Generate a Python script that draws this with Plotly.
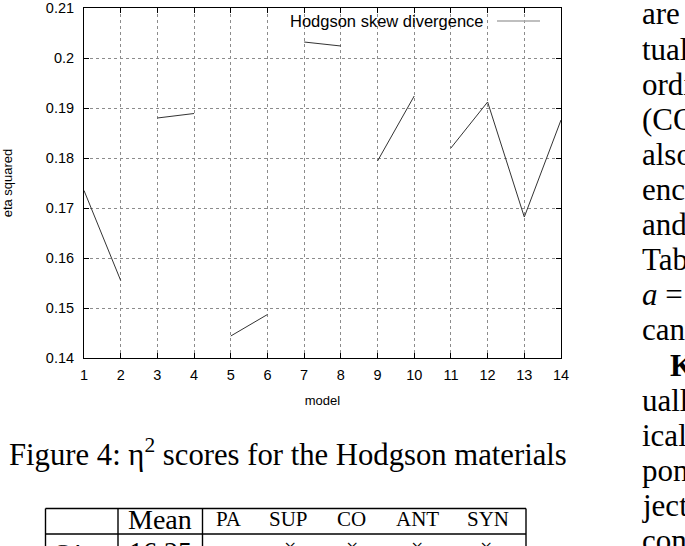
import plotly.graph_objects as go

# ---- data ----
models = [1, 2, None, 3, 4, None, 5, 6, None, 7, 8, None, 9, 10, None, 11, 12, 13, 14]
eta_sq = [0.1735, 0.1555, None, 0.1880, 0.1889, None, 0.1444, 0.1487, None,
          0.2032, 0.2024, None, 0.1794, 0.1924, None, 0.1820, 0.1912, 0.1682, 0.1876]
series_name = "Hodgson skew divergence"
x_ticks = list(range(1, 15))
y_ticks = [0.14, 0.15, 0.16, 0.17, 0.18, 0.19, 0.20, 0.21]
y_tick_labels = ["0.14", "0.15", "0.16", "0.17", "0.18", "0.19", "0.2", "0.21"]

caption = "Figure 4: η<sup>2</sup> scores for the Hodgson materials"
table_header = ["Mean", "PA", "SUP", "CO", "ANT", "SYN"]
table_row = ["GA", "16.25", "", "×", "×", "×", "×"]
side_text = ["are", "tually", "ordi", "(CO", "also", "ence", "and", "Table", "<i>a</i> =",
             "can", "<b>Ke</b>", "ually", "ical", "pone", "jects", "cons"]

# ---- layout geometry (pixels) ----
W, H = 685, 546
PL, PR, PT, PB = 84, 561, 8, 358


def fx(px):
    return (px - PL) / (PR - PL)


def fy(py):
    return (PB - py) / (PB - PT)


SANS = "Liberation Sans, Arial, sans-serif"
SERIF = "Liberation Serif, Times New Roman, serif"

fig = go.Figure()
fig.add_trace(go.Scatter(x=models, y=eta_sq, mode="lines", connectgaps=False,
                         line=dict(color="#333333", width=1), name=series_name,
                         showlegend=False))

axis_common = dict(showline=True, linecolor="black", linewidth=1, mirror="ticks",
                   ticks="inside", ticklen=5, tickcolor="black", tickwidth=1,
                   showgrid=True, gridcolor="#8c8c8c", griddash="dot", gridwidth=1,
                   zeroline=False, automargin=False,
                   tickfont=dict(family=SANS, size=14.5, color="black"))

fig.update_xaxes(range=[1, 14], tickvals=x_ticks, ticklabelstandoff=4,
                 title=dict(text="model", font=dict(family=SANS, size=13, color="black"),
                            standoff=13),
                 **axis_common)
fig.update_yaxes(range=[0.14, 0.21], tickvals=y_ticks, ticktext=y_tick_labels,
                 ticklabelstandoff=6,
                 title=dict(text="eta squared", font=dict(family=SANS, size=13, color="black"),
                            standoff=30),
                 **axis_common)

shapes = []
annotations = []

# legend (gnuplot style: text then sample line, on a white key box)
shapes.append(dict(type="rect", xref="paper", yref="paper", x0=fx(284), x1=fx(556),
                   y0=fy(31), y1=fy(9.5), fillcolor="white", line=dict(width=0),
                   layer="between"))
shapes.append(dict(type="line", xref="paper", yref="paper", x0=fx(497), x1=fx(540),
                   y0=fy(21), y1=fy(21), line=dict(color="#aaaaaa", width=1.5)))
annotations.append(dict(text=series_name, xref="paper", yref="paper", x=fx(486), y=fy(21),
                        xanchor="right", yanchor="middle", showarrow=False,
                        font=dict(family=SANS, size=16.5, color="black")))

# caption
annotations.append(dict(text=caption, xref="paper", yref="paper", x=fx(288), y=fy(452),
                        xanchor="center", yanchor="middle", showarrow=False,
                        font=dict(family=SERIF, size=30.7, color="black")))

# side column of body text (cut at the page edge)
for i, t in enumerate(side_text):
    x0 = 668 if i == 10 else 640
    annotations.append(dict(text=t, xref="paper", yref="paper", x=fx(x0), y=fy(14 + 35.1 * i),
                            xanchor="left", yanchor="middle", showarrow=False,
                            font=dict(family=SERIF, size=31, color="black")))

# table
lw = 1.4
tl, tr, ttop, tmid = 45.5, 526, 508.5, 534
for xv in (45.5, 118, 202.5, 526):
    shapes.append(dict(type="line", xref="paper", yref="paper", x0=fx(xv), x1=fx(xv),
                       y0=fy(ttop), y1=fy(H + 5), line=dict(color="black", width=lw)))
for yv in (ttop, tmid):
    shapes.append(dict(type="line", xref="paper", yref="paper", x0=fx(tl), x1=fx(tr),
                       y0=fy(yv), y1=fy(yv), line=dict(color="black", width=lw)))

header_x = [160, 229, 288, 351, 417, 488]
for t, xv in zip(table_header, header_x):
    size = 28 if t == "Mean" else 21
    annotations.append(dict(text=t, xref="paper", yref="paper", x=fx(xv), y=fy(519),
                            xanchor="center", yanchor="middle", showarrow=False,
                            font=dict(family=SERIF, size=size, color="black")))
row_x = [70, 160, 229, 290, 352, 417, 486]
for t, xv in zip(table_row, row_x):
    if not t:
        continue
    size = 22 if t in ("GA", "×") else 28
    yy = 551 if t != "×" else 546
    annotations.append(dict(text=t, xref="paper", yref="paper", x=fx(xv), y=fy(yy),
                            xanchor="center", yanchor="middle", showarrow=False,
                            font=dict(family=SERIF, size=size, color="black")))

fig.update_layout(width=W, height=H, margin=dict(l=PL, r=W - PR, t=PT, b=H - PB),
                  paper_bgcolor="white", plot_bgcolor="white",
                  shapes=shapes, annotations=annotations, showlegend=False)

fig.write_html("out.html")
